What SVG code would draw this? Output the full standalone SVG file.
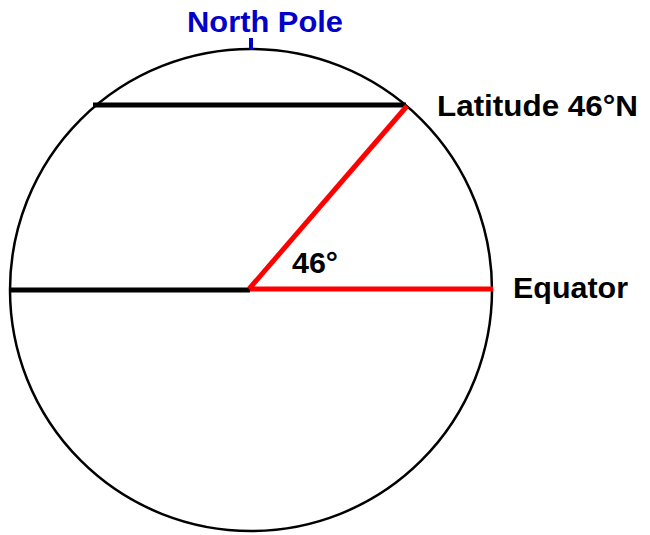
<svg xmlns="http://www.w3.org/2000/svg" width="650" height="535" viewBox="0 0 650 535">
<style>
.lbl{font-family:"Liberation Sans",Arial,sans-serif;font-weight:bold;font-size:29px;fill:#000}
.blk{stroke:#000;stroke-width:5;fill:none}
.red{stroke:#f00;stroke-width:5;fill:none}
</style>
<rect width="650" height="535" fill="#fff"/>
<g id="globe">
<circle cx="251" cy="290" r="241" fill="none" stroke="#000" stroke-width="2.5"/>
</g>
<g id="connectors">
<line class="blk" x1="93" y1="105" x2="406" y2="105"/>
<line class="blk" x1="10" y1="290" x2="250" y2="290"/>
<line class="red" x1="250" y1="289" x2="493" y2="289"/>
<line class="red" x1="249" y1="289" x2="407" y2="106"/>
<line x1="251" y1="38" x2="251" y2="50" stroke="#0000c8" stroke-width="4"/>
</g>
<g id="north-pole"><text class="lbl" x="187" y="32" style="fill:#0000c8" textLength="156" lengthAdjust="spacingAndGlyphs">North Pole</text></g>
<g id="latitude"><text class="lbl" x="437" y="116" textLength="201" lengthAdjust="spacingAndGlyphs">Latitude 46°N</text></g>
<g id="equator"><text class="lbl" x="513" y="298" textLength="115" lengthAdjust="spacingAndGlyphs">Equator</text></g>
<g id="angle"><text class="lbl" x="292" y="273" textLength="46" lengthAdjust="spacingAndGlyphs">46°</text></g>
</svg>
